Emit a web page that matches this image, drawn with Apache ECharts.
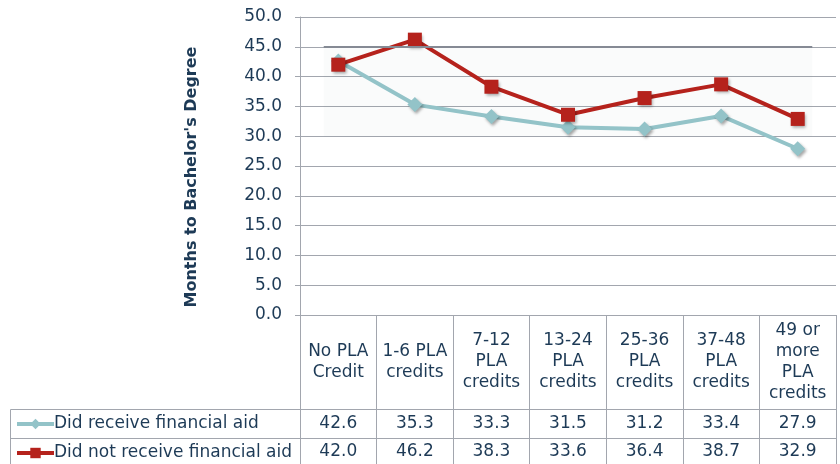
<!DOCTYPE html>
<html><head><meta charset="utf-8">
<script src="https://cdn.jsdelivr.net/npm/echarts@6/dist/echarts.min.js"></script>
<style>html,body{margin:0;padding:0;background:#fff}#c{width:840px;height:464px}</style>
</head><body><div id="c"></div>
<script>
var categories = ['No PLA\nCredit', '1-6 PLA\ncredits', '7-12\nPLA\ncredits', '13-24\nPLA\ncredits', '25-36\nPLA\ncredits', '37-48\nPLA\ncredits', '49 or\nmore\nPLA\ncredits'];
var receivedAid = [42.6, 35.3, 33.3, 31.5, 31.2, 33.4, 27.9];
var notReceivedAid = [42.0, 46.2, 38.3, 33.6, 36.4, 38.7, 32.9];
var seriesNames = ['Did receive financial aid', 'Did not receive financial aid'];
var yTitle = "Months to Bachelor's Degree";

var FONT = 'DejaVu Sans';
var FS = 17;
var NAVY = '#1d3a56';
var GRID = '#a2a6ae';
var TEAL = '#93c3c8';
var RED = '#b5221c';

var chart = echarts.init(document.getElementById('c'));
var shadow = {shadowBlur: 3, shadowOffsetX: 1.5, shadowOffsetY: 2, shadowColor: 'rgba(0,0,0,0.35)'};

chart.setOption({
  animation: false,
  textStyle: {fontFamily: FONT},
  grid: {left: 300, right: 4, top: 17, bottom: 149, containLabel: false},
  legend: {
    orient: 'vertical', left: 15, top: 415.5, height: 48, itemGap: 12, itemWidth: 37, itemHeight: 13, padding: 0,
    data: seriesNames,
    lineStyle: {width: 4},
    textStyle: {fontFamily: FONT, fontSize: FS, lineHeight: 16, color: NAVY, padding: [0, 0, 0, -5]}
  },
  xAxis: [
    {type: 'category', data: categories, position: 'bottom', boundaryGap: true,
     axisLine: {show: true, lineStyle: {color: GRID, width: 1}},
     axisTick: {show: true, interval: 0, length: 94, lineStyle: {color: GRID}},
     axisLabel: {interval: 0, margin: 47, verticalAlign: 'middle', fontFamily: FONT, fontSize: FS, lineHeight: 21, color: NAVY, align: 'center'}},
    {type: 'category', data: categories, position: 'bottom', offset: 94, boundaryGap: true,
     axisLine: {show: true, lineStyle: {color: GRID, width: 1}},
     axisTick: {show: true, interval: 0, length: 29, lineStyle: {color: GRID}},
     axisLabel: {interval: 0, margin: 14.5, verticalAlign: 'middle', fontFamily: FONT, fontSize: FS, color: NAVY,
       formatter: function (v, i) { return receivedAid[i].toFixed(1); }}},
    {type: 'category', data: categories, position: 'bottom', offset: 123, boundaryGap: true,
     axisLine: {show: true, lineStyle: {color: GRID, width: 1}},
     axisTick: {show: true, interval: 0, length: 30, lineStyle: {color: GRID}},
     axisLabel: {interval: 0, margin: 14, verticalAlign: 'middle', fontFamily: FONT, fontSize: FS, color: NAVY,
       formatter: function (v, i) { return notReceivedAid[i].toFixed(1); }}},
    {type: 'value', min: -0.5, max: 6.5, show: false}
  ],
  yAxis: {
    type: 'value', min: 0, max: 50, interval: 5,
    name: yTitle, nameLocation: 'middle', nameGap: 100, nameRotate: 90,
    nameTextStyle: {fontFamily: FONT, fontSize: 16, fontWeight: 'bold', color: NAVY, padding: [0, 22, 0, 0]},
    axisLine: {show: true, onZero: false, lineStyle: {color: GRID, width: 1}},
    axisTick: {show: true, length: 5, lineStyle: {color: GRID}},
    axisLabel: {margin: 18, fontFamily: FONT, fontSize: FS, color: NAVY, formatter: function (v) { return v.toFixed(1); }},
    splitLine: {show: true, lineStyle: {color: GRID, width: 1}}
  },
  graphic: [
    {type: 'polyline', shape: {points: [[300, 409.5], [10.5, 409.5], [10.5, 464]]}, style: {stroke: GRID, lineWidth: 1, fill: null}},
    {type: 'line', shape: {x1: 10.5, y1: 438.5, x2: 300, y2: 438.5}, style: {stroke: GRID, lineWidth: 1}}
  ],
  series: [
    {type: 'line', xAxisIndex: 3, data: [], silent: true, z: 1,
     markArea: {silent: true, itemStyle: {color: 'rgba(120,130,140,0.035)'},
       data: [[{coord: [-0.19, 30]}, {coord: [6.19, 45]}]]},
     markLine: {silent: true, symbol: 'none', label: {show: false}, lineStyle: {color: '#858a94', width: 2, type: 'solid'},
       data: [[{coord: [-0.19, 45]}, {coord: [6.19, 45]}]]}},
    {name: seriesNames[0], type: 'line', data: receivedAid, symbol: 'diamond', symbolSize: 15,
     lineStyle: {color: TEAL, width: 4}, itemStyle: Object.assign({color: TEAL}, shadow), z: 3},
    {name: seriesNames[1], type: 'line', data: notReceivedAid, symbol: 'rect', symbolSize: 14,
     lineStyle: {color: RED, width: 4}, itemStyle: Object.assign({color: RED}, shadow), z: 4}
  ]
});
</script>
</body></html>
